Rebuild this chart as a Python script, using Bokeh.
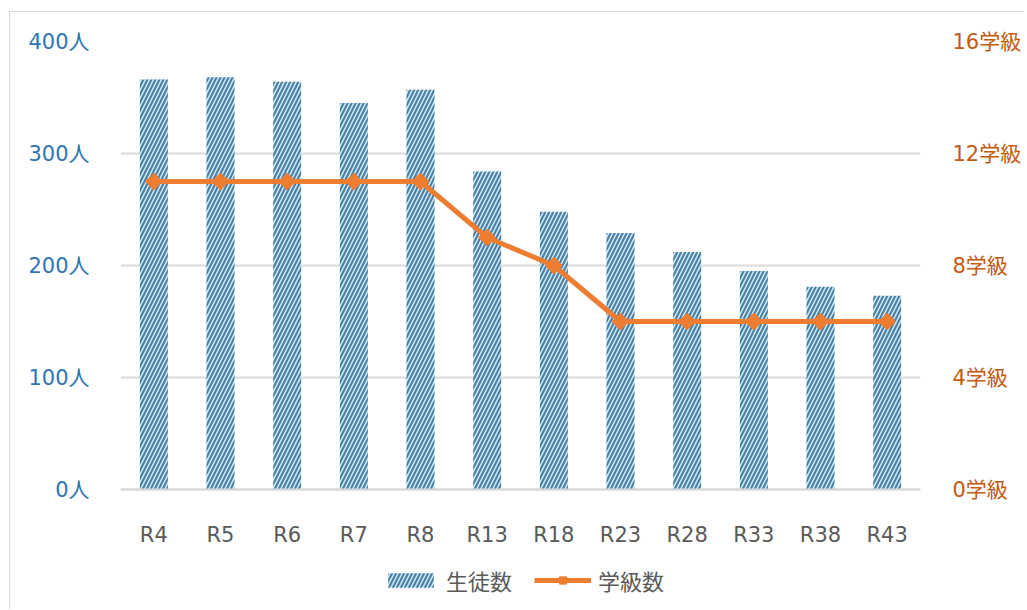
import math
from bokeh.plotting import figure
from bokeh.models import (FactorRange, Range1d, LinearAxis, FixedTicker,
                          PrintfTickFormatter, Legend, LegendItem, ColumnDataSource)
from bokeh.embed import file_html
from bokeh.resources import INLINE

categories = ["R4", "R5", "R6", "R7", "R8", "R13", "R18", "R23", "R28", "R33", "R38", "R43"]
students = [366, 368, 364, 345, 357, 284, 248, 229, 212, 195, 181, 173]
classes = [11, 11, 11, 11, 11, 9, 8, 6, 6, 6, 6, 6]
left_ticks = [0, 100, 200, 300, 400]
right_ticks = [0, 4, 8, 12, 16]

FONT = "DejaVu Sans, Noto Sans CJK JP"
LFONT = "Noto Sans CJK JP"
BLUE_TXT = "#2E75B6"
ORANGE_TXT = "#C55A11"
ORANGE = "#ED7D31"
GRID = "#d9d9d9"

# frame: 448 px for the 0..400 span, plus 116 px below zero for axis labels & legend
PX_ABOVE = 448
PX_BELOW = 116
y_low = -PX_BELOW * 400 / PX_ABOVE
c_low = -PX_BELOW * 16 / PX_ABOVE

src = ColumnDataSource(dict(cat=categories, students=students, cls=classes))

p = figure(x_range=FactorRange(*categories), y_range=Range1d(y_low, 400),
           frame_width=800, frame_height=PX_ABOVE + PX_BELOW,
           min_border_left=110, min_border_right=100, min_border_top=29, min_border_bottom=4,
           output_backend="svg", toolbar_location=None)
p.extra_y_ranges = {"cls": Range1d(c_low, 16)}

bars = p.vbar(x="cat", top="students", width=0.42, source=src,
              fill_color="#d2f1f7", line_color=None,
              hatch_pattern="/", hatch_color="#4f7fa8", hatch_scale=8, hatch_weight=2.2)
line = p.line(x="cat", y="cls", source=src, y_range_name="cls",
              line_color=ORANGE, line_width=5, line_join="round")
pts = p.scatter(x="cat", y="cls", source=src, y_range_name="cls",
                marker="square", angle=math.pi / 4, size=12,
                fill_color=ORANGE, line_color=ORANGE, line_width=1)

# left axis
ya = p.yaxis[0]
ya.ticker = FixedTicker(ticks=left_ticks)
ya.formatter = PrintfTickFormatter(format="%d人")
ya.axis_line_color = None
ya.major_tick_line_color = None
ya.minor_tick_line_color = None
ya.major_label_text_font = FONT
ya.major_label_text_font_size = "21px"
ya.major_label_text_color = BLUE_TXT
ya.major_label_standoff = 25

ra = LinearAxis(y_range_name="cls", ticker=FixedTicker(ticks=right_ticks),
                formatter=PrintfTickFormatter(format="%d学級"))
ra.axis_line_color = None
ra.major_tick_line_color = None
ra.minor_tick_line_color = None
ra.major_label_text_font = FONT
ra.major_label_text_font_size = "21px"
ra.major_label_text_color = ORANGE_TXT
ra.major_label_standoff = 26
p.add_layout(ra, "right")

xa = p.xaxis[0]
xa.fixed_location = 0
xa.axis_line_color = GRID
xa.axis_line_width = 2
xa.major_tick_line_color = None
xa.minor_tick_line_color = None
xa.major_label_text_font = FONT
xa.major_label_text_font_size = "21px"
xa.major_label_text_color = "#595959"
xa.major_label_standoff = 27

p.xgrid.grid_line_color = None
p.ygrid.ticker = FixedTicker(ticks=left_ticks)
p.ygrid.grid_line_color = GRID
p.ygrid.grid_line_width = 2
p.outline_line_color = None
p.x_range.range_padding = 0.0
p.x_range.factor_padding = 0.0

legend = Legend(items=[LegendItem(label="生徒数", renderers=[bars]),
                       LegendItem(label="学級数", renderers=[line, pts])],
                orientation="horizontal", location=(262, PX_BELOW - 107),
                label_text_font=LFONT, label_text_font_size="22px",
                label_text_color="#595959", border_line_color=None,
                background_fill_alpha=0,
                glyph_width=57, glyph_height=18, spacing=22, label_standoff=7,
                margin=0, padding=6)
p.add_layout(legend, "center")

p.styles = {"border-top": "1px solid #d9d9d9", "border-left": "1px solid #d9d9d9",
            "margin-top": "11px", "margin-left": "9px"}

open("out.html", "w").write(file_html(p, INLINE))
